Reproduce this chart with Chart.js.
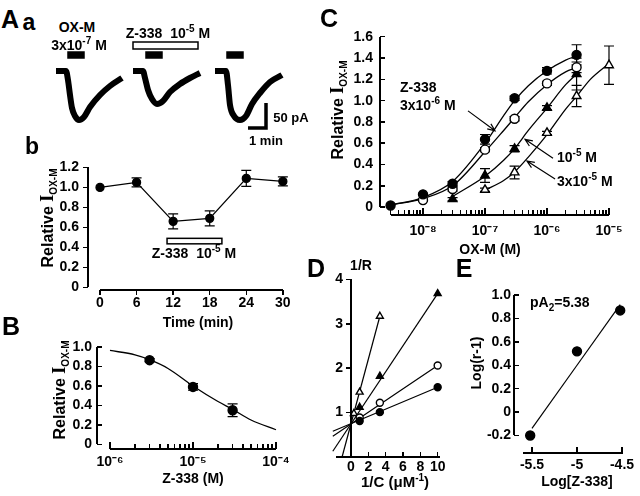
<!DOCTYPE html>
<html>
<head>
<meta charset="utf-8">
<title>Z-338 vs OX-M</title>
<script src="https://cdn.jsdelivr.net/npm/chart.js@4.4.1/dist/chart.umd.min.js"></script>
<style>
  body { margin: 0; background: #fff; }
  #page { position: relative; width: 640px; height: 496px; overflow: hidden;
          font-family: "Liberation Sans", Arial, sans-serif; font-weight: bold; color: #000; }
  #page canvas { position: absolute; }
  .t { position: absolute; white-space: nowrap; line-height: 1; font-size: 14px; transform: translate(-50%, -50%); }
  .l { transform: translate(0, -50%); }
  .big { font-size: 25px; }
  .rot { transform: translate(-50%, -50%) rotate(-90deg); font-size: 16px; }
  sup, sub { font-size: 10px; line-height: 0; }
  .serif { font-family: "Liberation Serif", serif; font-size: 18px; }
  .ax { position: absolute; background: #000; }
</style>
</head>
<body>
<div id="page">
  <canvas id="traceChart" width="260" height="100" style="left:40px;top:40px"></canvas>
  <canvas id="timeChart" width="270" height="176" style="left:30px;top:140px"></canvas>
  <canvas id="doseChart" width="260" height="170" style="left:40px;top:325px"></canvas>
  <canvas id="curveChart" width="320" height="235" style="left:320px;top:15px"></canvas>
  <canvas id="recipChart" width="150" height="230" style="left:300px;top:260px"></canvas>
  <canvas id="schildChart" width="180" height="212" style="left:460px;top:278px"></canvas>

  <!-- panel letters -->
  <div class="t big" style="left:10px;top:19px">A</div>
  <div class="t big" style="left:29px;top:22px;font-size:23px">a</div>
  <div class="t big" style="left:32px;top:146px;font-size:23px">b</div>
  <div class="t big" style="left:11px;top:326px">B</div>
  <div class="t big" style="left:329px;top:18px">C</div>
  <div class="t big" style="left:316px;top:268px">D</div>
  <div class="t big" style="left:464px;top:268px">E</div>

  <!-- A-a labels -->
  <div class="t" style="left:77px;top:27px">OX-M</div>
  <div class="t" style="left:79px;top:45px">3x10<sup>-7</sup> M</div>
  <div class="t" style="left:168px;top:33px">Z-338&nbsp;&nbsp;10<sup>-5</sup> M</div>
  <div class="t" style="left:291px;top:117px;font-size:13px">50 pA</div>
  <div class="t" style="left:266px;top:140px;font-size:13px">1 min</div>

  <!-- A-b labels -->
  <div class="t rot" style="left:47px;top:218px">Relative <span class="serif">I</span><sub>OX-M</sub></div>
  <div class="t" style="left:194px;top:253px">Z-338&nbsp;&nbsp;10<sup>-5</sup> M</div>
  <div class="t" style="left:198px;top:322px">Time (min)</div>

  <!-- B labels -->
  <div class="t rot" style="left:59px;top:390px">Relative <span class="serif">I</span><sub>OX-M</sub></div>
  <div class="t" style="left:193px;top:478px">Z-338 (M)</div>

  <!-- C labels -->
  <div class="t rot" style="left:337px;top:110px">Relative <span class="serif">I</span><sub>OX-M</sub></div>
  <div class="t" style="left:490px;top:249px">OX-M (M)</div>
  <div class="t l" style="left:400px;top:87px">Z-338</div>
  <div class="t l" style="left:400px;top:105px">3x10<sup>-6</sup> M</div>
  <div class="t l" style="left:557px;top:157px">10<sup>-5</sup> M</div>
  <div class="t l" style="left:557px;top:181px">3x10<sup>-5</sup> M</div>

  <!-- D labels -->
  <div class="t" style="left:361px;top:265px">1/R</div>
  <div class="t" style="left:395px;top:481px;font-size:15px">1/C (&mu;M<sup>-1</sup>)</div>

  <!-- E labels -->
  <div class="t rot" style="left:476px;top:363px;font-size:14px">Log(r-1)</div>
  <div class="t" style="left:577px;top:481px">Log[Z-338]</div>
  <div class="t l" style="left:530px;top:302px">pA<sub>2</sub>=5.38</div>
</div>

<script>
/* ================= DATA ================= */

// A-a: current traces (time in min along the panel, current in pA)
const trace1T = [0.8, 1.3, 1.4, 1.5, 1.6, 1.75, 1.95, 2.2, 2.5, 3.0, 3.5, 4.1];
const trace1I = [0, 0, -18, -48, -74, -90, -98, -92, -72, -48, -30, -14];
const trace2T = [4.65, 5.15, 5.25, 5.4, 5.6, 5.85, 6.15, 6.5, 7.0, 7.5, 8.0];
const trace2I = [0, 0, -14, -38, -56, -66, -60, -42, -26, -14, -4];
const trace3T = [8.75, 9.3, 9.4, 9.5, 9.7, 10.0, 10.3, 10.6, 11.0, 11.5, 12.1];
const trace3I = [0, 0, -28, -68, -90, -98, -90, -66, -44, -22, -8];
const oxmPulses = [[1.4, 2.2], [5.3, 6.1], [9.35, 10.15]];
const z338Pulse = [4.65, 7.9];

// A-b: time course
const timeMin = [0, 6, 12, 18, 24, 30];
const relTime = [1.0, 1.05, 0.66, 0.69, 1.09, 1.06];
const relTimeErr = [0, 0.045, 0.075, 0.075, 0.08, 0.045];
const z338Period = [11, 20];
const timeTicks = [0, 6, 12, 18, 24, 30];
const relTicks12 = [0, 0.2, 0.4, 0.6, 0.8, 1.0, 1.2];

// B: Z-338 concentration-response
const z338Conc = [3e-6, 1e-5, 3e-5];
const relZ = [0.865, 0.59, 0.35];
const relZErr = [0.015, 0.034, 0.065];
const fitBX = [1e-6, 2e-6, 3e-6, 5e-6, 1e-5, 2e-5, 3e-5, 5e-5, 1e-4];
const fitBY = [0.965, 0.92, 0.87, 0.78, 0.6, 0.44, 0.36, 0.25, 0.15];
const doseMajor = [1e-6, 1e-5, 1e-4];
const relTicks10 = [0, 0.2, 0.4, 0.6, 0.8, 1.0];

// C: OX-M concentration-response with Z-338
const oxmConc = [3e-9, 1e-8, 3e-8, 1e-7, 3e-7, 1e-6, 3e-6, 1e-5];
const ctrl = [0.015, 0.12, 0.22, 0.637, 1.022, 1.28, 1.43, null];
const ctrlErr = [0, 0.01, 0.02, 0.045, 0.02, 0.03, 0.095, 0];
const z3e6 = [null, 0.066, 0.17, 0.54, 0.83, 1.162, 1.313, null];
const z3e6Err = [0, 0.01, 0.02, 0.02, 0.02, 0.02, 0.05, 0];
const z1e5 = [null, null, 0.075, 0.297, 0.548, 0.933, 1.25, null];
const z1e5Err = [0, 0, 0.015, 0.065, 0.03, 0.02, 0.15, 0];
const z3e5 = [null, null, null, 0.163, 0.326, 0.697, 1.043, 1.333];
const z3e5Err = [0, 0, 0, 0.015, 0.06, 0.015, 0.1, 0.18];
const fitCX = [3e-9, 1e-8, 3e-8, 1e-7, 2e-7, 3e-7, 5e-7, 1e-6, 2e-6, 3e-6, 5e-6, 1e-5];
const fitCtrl = [0.02, 0.09, 0.24, 0.6, 0.86, 1.0, 1.14, 1.28, 1.38, 1.42, null, null];
const fitZ3e6 = [0.02, 0.08, 0.2, 0.52, 0.72, 0.84, 0.99, 1.15, 1.27, 1.31, null, null];
const fitZ1e5 = [null, null, 0.1, 0.29, 0.44, 0.55, 0.72, 0.93, 1.15, 1.25, null, null];
const fitZ3e5 = [null, null, null, 0.16, 0.25, 0.33, 0.47, 0.68, 0.92, 1.04, 1.2, 1.35];
const oxmMajor = [1e-8, 1e-7, 1e-6, 1e-5];
const oxmLead = [3e-9, 4e-9, 5e-9, 6e-9, 7e-9, 8e-9, 9e-9];
const relTicks16 = [0, 0.2, 0.4, 0.6, 0.8, 1.0, 1.2, 1.4, 1.6];

// D: double reciprocal (1/C in uM^-1, 1/R)
const invC = [0.333, 1, 3.33, 10];
const invCtrl = [null, 0.81, 1.01, 1.57];
const invZ3e6 = [null, 0.89, 1.22, 2.06];
const invZ1e5 = [null, 1.12, 1.82, 3.68];
const invZ3e5 = [0.98, 1.46, 3.17, null];
const lineCtrlX = [-2.1, 10], lineCtrlY = [0.58, 1.57];
const lineZ3e6X = [-2.1, 10], lineZ3e6Y = [0.47, 2.06];
const lineZ1e5X = [-2.1, 10], lineZ1e5Y = [0.13, 3.68];
const lineZ3e5X = [-1.03, 3.33], lineZ3e5Y = [0, 3.17];
const invCTicks = [0, 2, 4, 6, 8, 10];
const invRTicks = [1, 2, 3, 4];

// E: Schild plot
const logZ = [-5.52, -5, -4.52];
const logR1 = [-0.2, 0.52, 0.87];
const schildX = [-5.5, -4.52], schildY = [-0.14, 0.92];
const logZTicks = [-5.5, -5, -4.5];
const logR1Ticks = [-0.2, 0, 0.2, 0.4, 0.6, 0.8, 1.0];

/* ================= AXIS LINES (detached, per canvas) ================= */

// horiz: x axis at chart bottom / y axis at chart left; lo-hi = drawn span; dir = tick direction
const AXES = {
    timeChart: [
        {horiz: true, lo: 0, hi: 30, dir: 1, len: 5},
        {horiz: false, lo: 0, hi: 1.2, dir: -1, len: 5}
    ],
    doseChart: [
        {horiz: true, lo: 1e-6, hi: 1e-4, dir: -1, len: 7},
        {horiz: false, lo: 0, hi: 1.0, dir: 1, len: 5}
    ],
    curveChart: [
        {horiz: true, lo: 3e-9, hi: 1e-5, dir: -1, len: 7},
        {horiz: false, lo: 0, hi: 1.6, dir: 1, len: 5}
    ],
    recipChart: [
        {horiz: true, lo: -1.7, hi: 10.3, dir: -1, len: 5},
        {horiz: false, lo: 0, hi: 4, dir: -1, len: 5}
    ],
    schildChart: [
        {horiz: true, lo: -5.6, hi: -4.49, dir: -1, len: 6},
        {horiz: false, lo: -0.2, hi: 1.0, dir: 1, len: 5}
    ]
};

/* ================= HELPERS ================= */

const xy = (xs, ys) => xs.map((x, i) => ({x: x, y: ys[i]}));
const SUP = '⁰¹²³⁴⁵⁶⁷⁸⁹';
const pow10 = v => '10' + String(Math.round(Math.log10(v))).replace('-', '⁻').replace(/\d/g, d => SUP[d]);
const fmt1 = v => v === 0 ? '0' : v.toFixed(1);

function withMinors(majors) {
    const out = [];
    majors.forEach((m, i) => {
        out.push(m);
        if (i < majors.length - 1) for (let k = 2; k <= 9; k++) out.push(m * k);
    });
    return out;
}

function scaleCfg(type, min, max, ticks, label, size, pad, isX) {
    return {
        type: type, min: min, max: max,
        grid: {display: false, drawTicks: false},
        border: {display: false},
        ticks: {padding: pad, autoSkip: false, maxRotation: 0, callback: label},
        afterBuildTicks: s => { s.ticks = ticks.map(v => ({value: v})); },
        afterFit: s => { if (isX) s.height = size; else s.width = size; }
    };
}

function pts(data, style, fill, r, errors) {
    return {data: data, showLine: false, pointStyle: style, pointRadius: r, clip: false,
            pointBackgroundColor: fill, pointBorderColor: '#000', pointBorderWidth: 1.4, errors: errors};
}

function curve(data, w) {
    return {data: data, showLine: true, pointRadius: 0, borderColor: '#000', borderWidth: w || 1.3,
            cubicInterpolationMode: 'monotone', spanGaps: false, clip: false};
}

// axis lines and tick marks placed from the chart's own scales, on top of the canvas
function axesFor(chart) {
    const page = document.getElementById('page');
    const cv = chart.canvas, ca = chart.chartArea;
    const ox = cv.offsetLeft, oy = cv.offsetTop;
    const bar = (x, y, w, h) => {
        const d = document.createElement('div');
        d.className = 'ax';
        d.style.left = x + 'px';
        d.style.top = y + 'px';
        d.style.width = w + 'px';
        d.style.height = h + 'px';
        page.appendChild(d);
    };
    (AXES[cv.id] || []).forEach(a => {
        const s = a.horiz ? chart.scales.x : chart.scales.y;
        const at = a.horiz ? ca.bottom : ca.left;
        const p0 = s.getPixelForValue(a.lo), p1 = s.getPixelForValue(a.hi);
        const lw = 1.6;
        if (a.horiz) bar(ox + Math.min(p0, p1), oy + at - lw / 2, Math.abs(p1 - p0), lw);
        else bar(ox + at - lw / 2, oy + Math.min(p0, p1), lw, Math.abs(p1 - p0));
        s.ticks.forEach(t => {
            const p = s.getPixelForValue(t.value);
            const len = t.label === '' ? a.len - 2 : a.len;
            if (a.horiz) bar(ox + p - 0.75, oy + (a.dir > 0 ? at : at - len), 1.5, len);
            else bar(ox + (a.dir > 0 ? at : at - len), oy + p - 0.75, len, 1.5);
        });
    });
    return chart;
}

/* ================= PLUGINS ================= */

// vertical error bars with caps
const errorBars = {
    id: 'errorBars',
    beforeDatasetsDraw(chart) {
        const ctx = chart.ctx, ys = chart.scales.y;
        ctx.save();
        ctx.strokeStyle = '#000';
        ctx.lineWidth = 1.2;
        chart.data.datasets.forEach((ds, i) => {
            if (!ds.errors) return;
            chart.getDatasetMeta(i).data.forEach((el, j) => {
                const e = ds.errors[j], v = ds.data[j].y;
                if (!e || v === null) return;
                const top = ys.getPixelForValue(v + e), bot = ys.getPixelForValue(v - e);
                ctx.beginPath();
                ctx.moveTo(el.x, top); ctx.lineTo(el.x, bot);
                ctx.moveTo(el.x - 5, top); ctx.lineTo(el.x + 5, top);
                ctx.moveTo(el.x - 5, bot); ctx.lineTo(el.x + 5, bot);
                ctx.stroke();
            });
        });
        ctx.restore();
    }
};

// drug bars, scale bar, arrows (in data units)
const marks = {
    id: 'marks',
    afterDatasetsDraw(chart, args, o) {
        const ctx = chart.ctx, sx = chart.scales.x, sy = chart.scales.y;
        const px = v => sx.getPixelForValue(v), py = v => sy.getPixelForValue(v);
        ctx.save();
        ctx.strokeStyle = '#000';
        (o.rects || []).forEach(r => {
            const x0 = px(r.x[0]), x1 = px(r.x[1]), y0 = py(r.y[1]), y1 = py(r.y[0]);
            ctx.lineWidth = 1.5;
            ctx.fillStyle = r.fill;
            ctx.fillRect(x0, y0, x1 - x0, y1 - y0);
            ctx.strokeRect(x0, y0, x1 - x0, y1 - y0);
        });
        (o.paths || []).forEach(p => {
            ctx.lineWidth = p.width;
            ctx.beginPath();
            p.pts.forEach((q, i) => i ? ctx.lineTo(px(q[0]), py(q[1])) : ctx.moveTo(px(q[0]), py(q[1])));
            ctx.stroke();
        });
        (o.arrows || []).forEach(a => {
            const x0 = px(a.from[0]), y0 = py(a.from[1]), x1 = px(a.to[0]), y1 = py(a.to[1]);
            const ang = Math.atan2(y1 - y0, x1 - x0);
            ctx.lineWidth = 1.2;
            ctx.beginPath();
            ctx.moveTo(x0, y0); ctx.lineTo(x1, y1);
            ctx.moveTo(x1 - 8 * Math.cos(ang - 0.4), y1 - 8 * Math.sin(ang - 0.4));
            ctx.lineTo(x1, y1);
            ctx.lineTo(x1 - 8 * Math.cos(ang + 0.4), y1 - 8 * Math.sin(ang + 0.4));
            ctx.stroke();
        });
        ctx.restore();
    }
};

Chart.register(errorBars, marks);
Chart.defaults.font.family = '"Liberation Sans", Arial, sans-serif';
Chart.defaults.font.weight = 'bold';
Chart.defaults.font.size = 14;
Chart.defaults.color = '#000';
Chart.defaults.animation = false;
Chart.defaults.responsive = false;
Chart.defaults.plugins.legend.display = false;
Chart.defaults.plugins.tooltip.enabled = false;

/* ================= A-a TRACES ================= */

new Chart(document.getElementById('traceChart'), {
    type: 'scatter',
    data: {
        datasets: [
            curve(xy(trace1T, trace1I), 6),
            curve(xy(trace2T, trace2I), 6),
            curve(xy(trace3T, trace3I), 6)
        ]
    },
    options: {
        layout: {padding: 0},
        scales: {
            x: {type: 'linear', display: false, min: 0, max: 13},
            y: {type: 'linear', display: false, min: -138, max: 62}
        },
        plugins: {
            marks: {
                rects: oxmPulses.map(p => ({x: p, y: [26, 38], fill: '#000'}))
                    .concat([{x: z338Pulse, y: [44, 58], fill: '#fff'}]),
                paths: [{pts: [[10.4, -114], [11.3, -114], [11.3, -64]], width: 3.5}]
            }
        }
    }
});

/* ================= A-b TIME COURSE ================= */

axesFor(new Chart(document.getElementById('timeChart'), {
    type: 'scatter',
    data: {
        datasets: [{
            data: xy(timeMin, relTime), showLine: true, borderColor: '#000', borderWidth: 1.3, clip: false,
            pointRadius: 4, pointBackgroundColor: '#000', pointBorderColor: '#000', errors: relTimeErr
        }]
    },
    options: {
        layout: {padding: {top: 4, right: 8, left: 0, bottom: 0}},
        scales: {
            x: scaleCfg('linear', -1.97, 31.5, timeTicks, v => String(v), 26, 5, true),
            y: scaleCfg('linear', -0.027, 1.3, relTicks12, fmt1, 58, 9, false)
        },
        plugins: {
            marks: {rects: [{x: z338Period, y: [0.435, 0.49], fill: '#fff'}]}
        }
    }
}));

/* ================= B Z-338 DOSE RESPONSE ================= */

axesFor(new Chart(document.getElementById('doseChart'), {
    type: 'scatter',
    data: {
        datasets: [
            pts(xy(z338Conc, relZ), 'circle', '#000', 4.5, relZErr),
            curve(xy(fitBX, fitBY))
        ]
    },
    options: {
        layout: {padding: {top: 5, right: 15, left: 0, bottom: 0}},
        scales: {
            x: scaleCfg('logarithmic', Math.pow(10, -6.1566), Math.pow(10, -3.8916), withMinors(doseMajor),
                v => doseMajor.includes(v) ? pow10(v) : '', 46, 5, true),
            y: scaleCfg('linear', -0.0478, 1.0888, relTicks10, fmt1, 57, 5, false)
        }
    }
}));

/* ================= C OX-M DOSE RESPONSE ================= */

axesFor(new Chart(document.getElementById('curveChart'), {
    type: 'scatter',
    data: {
        datasets: [
            pts(xy(oxmConc, ctrl), 'circle', '#000', 4.5, ctrlErr),
            pts(xy(oxmConc, z3e6), 'circle', '#fff', 4.5, z3e6Err),
            pts(xy(oxmConc, z1e5), 'triangle', '#000', 5, z1e5Err),
            pts(xy(oxmConc, z3e5), 'triangle', '#fff', 5, z3e5Err),
            curve(xy(fitCX, fitCtrl)),
            curve(xy(fitCX, fitZ3e6)),
            curve(xy(fitCX, fitZ1e5)),
            curve(xy(fitCX, fitZ3e5))
        ]
    },
    options: {
        layout: {padding: {top: 5, right: 25, left: 0, bottom: 0}},
        scales: {
            x: scaleCfg('logarithmic', Math.pow(10, -8.6935), Math.pow(10, -4.9032), oxmLead.concat(withMinors(oxmMajor)),
                v => oxmMajor.includes(v) ? pow10(v) : '', 35, 8, true),
            y: scaleCfg('linear', -0.0738, 1.6596, relTicks16, fmt1, 60, 7, false)
        },
        plugins: {
            marks: {
                arrows: [
                    {from: [5.32e-8, 0.904], to: [1.45e-7, 0.717]},
                    {from: [1.25e-6, 0.46], to: [4.42e-7, 0.637]},
                    {from: [1.35e-6, 0.264], to: [4.75e-7, 0.433]}
                ]
            }
        }
    }
}));

/* ================= D DOUBLE RECIPROCAL ================= */

axesFor(new Chart(document.getElementById('recipChart'), {
    type: 'scatter',
    data: {
        datasets: [
            pts(xy(invC, invCtrl), 'circle', '#000', 3.5),
            pts(xy(invC, invZ3e6), 'circle', '#fff', 3.5),
            pts(xy(invC, invZ1e5), 'triangle', '#000', 4),
            pts(xy(invC, invZ3e5), 'triangle', '#fff', 4),
            curve(xy(lineCtrlX, lineCtrlY), 1.2),
            curve(xy(lineZ3e6X, lineZ3e6Y), 1.2),
            curve(xy(lineZ1e5X, lineZ1e5Y), 1.2),
            curve(xy(lineZ3e5X, lineZ3e5Y), 1.2)
        ]
    },
    options: {
        layout: {padding: {top: 15, right: 5, left: 0, bottom: 0}},
        scales: {
            x: scaleCfg('linear', 0, 10.8, invCTicks, v => String(v), 33, 2, true),
            y: scaleCfg('linear', 0, 4.067, invRTicks, v => String(v), 51, 8, false)
        }
    }
}));

/* ================= E SCHILD PLOT ================= */

axesFor(new Chart(document.getElementById('schildChart'), {
    type: 'scatter',
    data: {
        datasets: [
            pts(xy(logZ, logR1), 'circle', '#000', 4.5),
            curve(xy(schildX, schildY), 1.2)
        ]
    },
    options: {
        layout: {padding: {top: 7, right: 10, left: 0, bottom: 0}},
        scales: {
            x: scaleCfg('linear', -5.7, -4.411, logZTicks, v => String(v), 37, 4, true),
            y: scaleCfg('linear', -0.35, 1.05, logR1Ticks, fmt1, 54, 3, false)
        }
    }
}));
</script>
</body>
</html>
